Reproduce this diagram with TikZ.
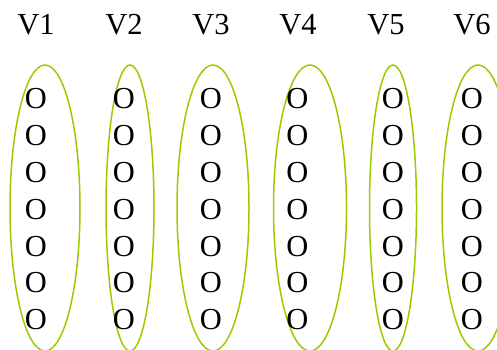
\documentclass[tikz,border=0pt]{standalone}
\usepackage{fontspec}
\setmainfont{Liberation Serif}
\usetikzlibrary{shapes.geometric}
\definecolor{groupgreen}{HTML}{99CC00}
\tikzset{%
  vlabel/.style = {inner sep=0pt, anchor=center},%
  cell/.style   = {inner sep=0pt, anchor=center},%
  group/.style  = {shape=ellipse, draw=groupgreen, line width=1.5pt,%
                   inner sep=0pt, minimum height=286pt}%
}

\begin{document}
\begin{tikzpicture}[x=1pt, y=-1pt, every node/.style = {font=\fontsize{30.5}{36}\selectfont}]
                  \clip (0,0) rectangle (497,350);
                  % group ellipses
                  \foreach \n/\cx/\w in {1/45/70, 2/130/48, 3/213/72, 4/310/73, 5/393/47, 6/478/72}
                    \node [group, minimum width=\w pt] (e\n) at (\cx,208) {};
                  % column headers
                  \foreach \n/\lx in {1/36, 2/124, 3/211, 4/298, 5/386, 6/472}
                    \node [vlabel] (v\n) at (\lx,25) {V\n};
                  % cells
                  \foreach \n/\ox in {1/36, 2/124, 3/211, 4/297.5, 5/393, 6/472}
                    \foreach \r in {0,...,6}
                      \node [cell] (o\n-\r) at (\ox,99+36.8*\r) {O};
            \end{tikzpicture}
\end{document}
